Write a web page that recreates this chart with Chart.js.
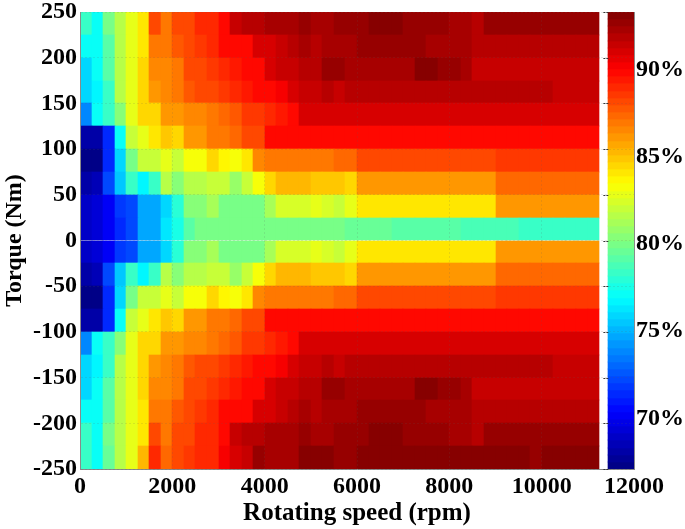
<!DOCTYPE html>
<html>
<head>
<meta charset="utf-8">
<title>Efficiency map</title>
<script src="https://cdn.jsdelivr.net/npm/chart.js@4"></script>
<style>
    html, body { margin: 0; padding: 0; background: #fff; }
    canvas { display: block; }
</style>
</head>
<body>
<canvas id="effMap" width="685" height="529"></canvas>
<script>
// Data
const speedStep = 250;
const torqueStep = 25;
const torqueTop = 250;
const xTicks = [0, 2000, 4000, 6000, 8000, 10000, 12000];
const yTicks = [-250, -200, -150, -100, -50, 0, 50, 100, 150, 200, 250];
const colorbarTicks = [70, 75, 80, 85, 90];
const effMin = 67.1;
const effMax = 93.3;
const colorLevels = 64;

// efficiency (%) per torque row, top row first, one value per 250 rpm column
const efficiency = [
    [78.5,77,79.8,81.8,82.8,84.2,88,86.8,88,88.3,89,89,90,91.5,91.7,92,92.2,92.4,92.4,92.5,92.2,92.4,92.6,92.7,92.7,93,93.1,93.1,92.6,92.7,92.7,92.5,92.4,92.4,92,92.7,92.7,92.7,92.6,92.6,92.6,92.7,92.5,92.5,92.6],
    [77.3,77.2,79,81.8,82.9,84.2,87,86.8,87.8,88,88.6,88.8,89.8,90,90,91,91.2,91.5,91.7,92.2,92,92.4,92.3,92.3,92.8,92.8,92.7,92.7,92.7,92.7,92.2,92.2,92.2,92.2,91.9,91.9,91.9,91.9,91.9,91.9,91.9,91.9,91.9,91.9,91.9],
    [75.8,77,79,81.8,82.8,84.3,86.5,86.6,87,88,88.2,88.5,89,89.6,89.8,89.9,91,91.3,91.6,91.8,92,92.5,92.5,92.4,92.4,92.4,92.4,92.4,92.4,93,93,92.6,92.6,92.2,91.6,91.6,91.6,91.6,91.6,91.6,91.6,91.6,91.6,91.6,91.6],
    [75.8,76.8,78.2,81.8,82.8,84.3,86.2,86.4,86.8,87.8,88,88.2,88.5,89,89.4,89.8,90,90.2,91.2,91.4,91.5,91.7,91.5,92,92,92,92,92,92,92,92,92,92,92,92,92,92,92,92,92,92,91.6,91.6,91.6,91.6],
    [73.8,77,78.2,80.2,82.8,84.3,84.5,86,86.1,86.4,86.7,86.9,87.2,87.7,88.4,88.7,89,89.4,89.9,91,91,91,91,91.1,91.1,91.1,91.1,91.1,91.1,91.1,91.1,91.1,91.1,91.1,91.1,91.1,91.1,91.1,91.1,91.1,91.1,91.1,91.1,91.1,91.1],
    [68,68,71.5,77,82,82.8,84,85,84.3,86,86.1,86.8,87,87.3,88,88.3,89.7,89.9,89.9,90,90,90,90,90,90,90,90,90,90,90,90,90,90,90,90,90,90,90,90,90,90,90,90,90,90],
    [67,67.3,71.3,75.8,80,82,82,82.8,82.2,83.3,83.3,84.3,83.8,83.3,84.2,86.4,86.8,87,87,87,87.1,87.1,87.2,87.5,88.1,88.1,88.1,88.1,88.1,88.1,88.1,88.1,88.1,88.1,88.1,88.1,88.5,88.5,88.5,88.5,88.5,88.5,88.5,88.5,88.5],
    [68,68.6,72.2,75.3,78.3,76.9,78.5,81.6,80.5,81.8,81.8,82.2,82,81,82,83.3,84.4,85.2,85.2,85.2,85,85,84.8,84.7,86,86,86,86,86,86,86,86,86,86,86,86,87.2,87.2,87.2,87.2,87.2,87.2,87.2,87.2,87.2],
    [69,69.5,70.3,71.8,72.3,74.5,74.5,76,77.8,80.2,80.2,81.4,80,80,80,80,81.4,82.4,82.5,82.5,82.7,82.6,82,82.9,84.1,84.1,84.1,84.1,84.1,84.1,84.1,84.1,84.1,84.1,84.1,84.1,86,86,86,86,86,86,86,86,86],
    [69,69.5,70.2,71.5,72.3,74.5,74.5,76.5,77.5,79,80,80,80,80,80,80,80,80,80,80,80,80,79.8,79.6,79.6,79.5,79.5,79,79,79,79,79,79,78.6,78.6,78.6,78.6,78.6,78.3,78.3,78.3,78.3,78.3,78.3,78.3],
    [69,69.5,70.3,71.8,72.3,74.5,74.5,76,77.8,80.2,80.2,81.4,80,80,80,80,81.4,82.4,82.5,82.5,82.7,82.6,82,82.9,84.1,84.1,84.1,84.1,84.1,84.1,84.1,84.1,84.1,84.1,84.1,84.1,86,86,86,86,86,86,86,86,86],
    [68,68.6,72.2,75.3,78.3,76.9,78.5,81.6,80.5,81.8,81.8,82.2,82,81,82,83.3,84.4,85.2,85.2,85.2,85,85,84.8,84.7,86,86,86,86,86,86,86,86,86,86,86,86,87.2,87.2,87.2,87.2,87.2,87.2,87.2,87.2,87.2],
    [67,67.3,71.3,75.8,80,82,82,82.8,82.2,83.3,83.3,84.3,83.8,83.3,84.2,86.4,86.8,87,87,87,87.1,87.1,87.2,87.5,88.1,88.1,88.1,88.1,88.1,88.1,88.1,88.1,88.1,88.1,88.1,88.1,88.5,88.5,88.5,88.5,88.5,88.5,88.5,88.5,88.5],
    [68,68,71.5,77,82,82.8,84,85,84.3,86,86.1,86.8,87,87.3,88,88.3,89.7,89.9,89.9,90,90,90,90,90,90,90,90,90,90,90,90,90,90,90,90,90,90,90,90,90,90,90,90,90,90],
    [73.8,77,78.2,80.2,82.8,84.3,84.5,86,86.1,86.4,86.7,86.9,87.2,87.7,88.4,88.7,89,89.4,89.9,91,91,91,91,91.1,91.1,91.1,91.1,91.1,91.1,91.1,91.1,91.1,91.1,91.1,91.1,91.1,91.1,91.1,91.1,91.1,91.1,91.1,91.1,91.1,91.1],
    [75.8,76.8,78.2,81.8,82.8,84.3,86.2,86.4,86.8,87.8,88,88.2,88.5,89,89.4,89.8,90,90.2,91.2,91.4,91.5,91.7,91.5,92,92,92,92,92,92,92,92,92,92,92,92,92,92,92,92,92,92,91.6,91.6,91.6,91.6],
    [75.8,77,79,81.8,82.8,84.3,86.5,86.6,87,88,88.2,88.5,89,89.6,89.8,89.9,91,91.3,91.6,91.8,92,92.5,92.5,92.4,92.4,92.4,92.4,92.4,92.4,93,93,92.6,92.6,92.2,91.6,91.6,91.6,91.6,91.6,91.6,91.6,91.6,91.6,91.6,91.6],
    [77.3,77.2,79,81.8,82.9,84.2,87,86.8,87.8,88,88.6,88.8,89.8,90,90,91,91.2,91.5,91.7,92.2,92,92.4,92.3,92.3,92.8,92.8,92.7,92.7,92.7,92.7,92.2,92.2,92.2,92.2,91.9,91.9,91.9,91.9,91.9,91.9,91.9,91.9,91.9,91.9,91.9],
    [78.5,77,79.8,81.8,82.8,84.2,88,86.8,88,88.3,89,89,90,91.5,91.7,92,92.2,92.4,92.4,92.5,92.2,92.4,92.6,92.7,92.7,93,93.1,93.1,92.6,92.7,92.7,92.5,92.4,92.4,92,92.7,92.7,92.7,92.6,92.6,92.6,92.7,92.5,92.5,92.6],
    [78.5,77,79.7,81.8,82.8,85.2,89,87.5,88.2,88.6,89,89.2,90.2,91,91.5,92.5,92.4,92.4,92.4,92.9,92.9,92.9,92.8,92.7,93.2,93.2,93.2,93.2,93.2,93.2,93.2,93.2,93.2,93.2,93.2,93.2,93.2,93.2,93.2,92.7,93.2,93.2,93.2,93.2,93.2]
];

// Colormap (matlab jet, 64 levels)
function jetColor(value) {
    const level = Math.max(0, Math.min(colorLevels - 1, Math.floor((value - effMin) / (effMax - effMin) * colorLevels)));
    const t = (level + 0.5) / colorLevels;
    const ch = c => Math.round(255 * Math.max(0, Math.min(1, 1.5 - Math.abs(4 * t - c))));
    return `rgb(${ch(3)},${ch(2)},${ch(1)})`;
}

// Heat map cells
const cells = [];
const cellColors = [];
efficiency.forEach((row, r) => {
    row.forEach((value, c) => {
        cells.push({ x: (c + 0.5) * speedStep, y: [torqueTop - (r + 1) * torqueStep, torqueTop - r * torqueStep] });
        cellColors.push(jetColor(value));
    });
});

// Colorbar cells
const colorbarCenter = 11719;
const barCells = [];
const barColors = [];
for (let i = 0; i < colorLevels; i++) {
    const lo = effMin + (effMax - effMin) * i / colorLevels;
    const hi = effMin + (effMax - effMin) * (i + 1) / colorLevels;
    barCells.push({ x: colorbarCenter, y: [lo, hi] });
    barColors.push(jetColor((lo + hi) / 2));
}

const tickFont = { family: '"Liberation Serif", serif', size: 24, weight: 'bold' };
const xTitleFont = { family: '"Liberation Serif", serif', size: 25, weight: 'bold' };
const yTitleFont = { family: '"Liberation Serif", serif', size: 24, weight: 'bold' };
const dashed = { color: '#8a8a8a', width: 1, dash: [2, 2] };

// Fix the plot box so it lines up with the reference
function fixBox(size) {
    return scale => {
        if (scale.isHorizontal()) scale.height = size; else scale.width = size;
        scale.paddingLeft = scale.paddingRight = scale.paddingTop = scale.paddingBottom = 0;
    };
}

// Round bar edges to whole pixels so neighbouring cells leave no seams
const snap = v => Math.round(Number(v.toFixed(3)));
const snapBars = {
    id: 'snapBars',
    afterDatasetsUpdate(chart) {
        chart.getSortedVisibleDatasetMetas().forEach(meta => {
            meta.data.forEach(bar => {
                const left = snap(bar.x - bar.width / 2);
                const right = snap(bar.x + bar.width / 2);
                bar.x = (left + right) / 2;
                bar.width = right - left;
                bar.y = snap(bar.y);
                bar.base = snap(bar.base);
            });
        });
    }
};

// Short dashes in the white gap between map and colorbar
const gapTicks = {
    id: 'gapTicks',
    afterDraw(chart) {
        const { ctx, scales } = chart;
        const from = scales.x.getPixelForValue(11250) + 4;
        const to = from + 5;
        ctx.save();
        ctx.strokeStyle = '#333';
        ctx.setLineDash([2, 1]);
        yTicks.forEach(v => {
            const y = Math.round(scales.y.getPixelForValue(v)) + 0.5;
            ctx.beginPath();
            ctx.moveTo(from, y);
            ctx.lineTo(to, y);
            ctx.stroke();
        });
        ctx.restore();
    }
};

new Chart(document.getElementById('effMap'), {
    type: 'bar',
    data: {
        datasets: [
            { data: cells, backgroundColor: cellColors, borderWidth: 0, grouped: false, barPercentage: 1, categoryPercentage: 1, yAxisID: 'y' },
            { data: barCells, backgroundColor: barColors, borderWidth: 0, grouped: false, barThickness: 26, yAxisID: 'yBar' }
        ]
    },
    plugins: [snapBars, gapTicks],
    options: {
        responsive: false,
        animation: false,
        layout: { padding: { top: 12 } },
        plugins: { legend: { display: false }, tooltip: { enabled: false } },
        scales: {
            x: {
                type: 'linear',
                offset: false,
                min: 0,
                max: 12000,
                afterBuildTicks: s => { s.ticks = xTicks.map(v => ({ value: v })); },
                afterFit: fixBox(60),
                ticks: { font: tickFont, color: '#000', padding: 3, maxRotation: 0, autoSkip: false, callback: v => String(v) },
                grid: { color: 'rgba(90,90,90,0.14)', offset: false, drawTicks: false, z: 1 },
                border: { ...dashed, z: 1 },
                title: { display: true, text: 'Rotating speed (rpm)', font: xTitleFont, color: '#000', padding: { top: 0, bottom: 0 } }
            },
            y: {
                min: -250,
                max: 250,
                afterBuildTicks: s => { s.ticks = yTicks.map(v => ({ value: v })); },
                afterFit: fixBox(80),
                ticks: { font: tickFont, color: '#000', padding: 3, autoSkip: false },
                grid: { color: 'rgba(90,90,90,0.14)', drawTicks: false, z: 1 },
                border: { ...dashed, z: 1 },
                title: { display: true, text: 'Torque (Nm)', font: yTitleFont, color: '#000', padding: { top: 0, bottom: 0 } }
            },
            yBar: {
                position: 'right',
                min: effMin,
                max: effMax,
                afterBuildTicks: s => { s.ticks = colorbarTicks.map(v => ({ value: v })); },
                afterFit: fixBox(51),
                ticks: { font: tickFont, color: '#000', padding: 2, autoSkip: false, callback: v => v + '%' },
                grid: { display: false, drawTicks: false },
                border: { ...dashed, z: 1 }
            }
        }
    }
});
</script>
</body>
</html>
